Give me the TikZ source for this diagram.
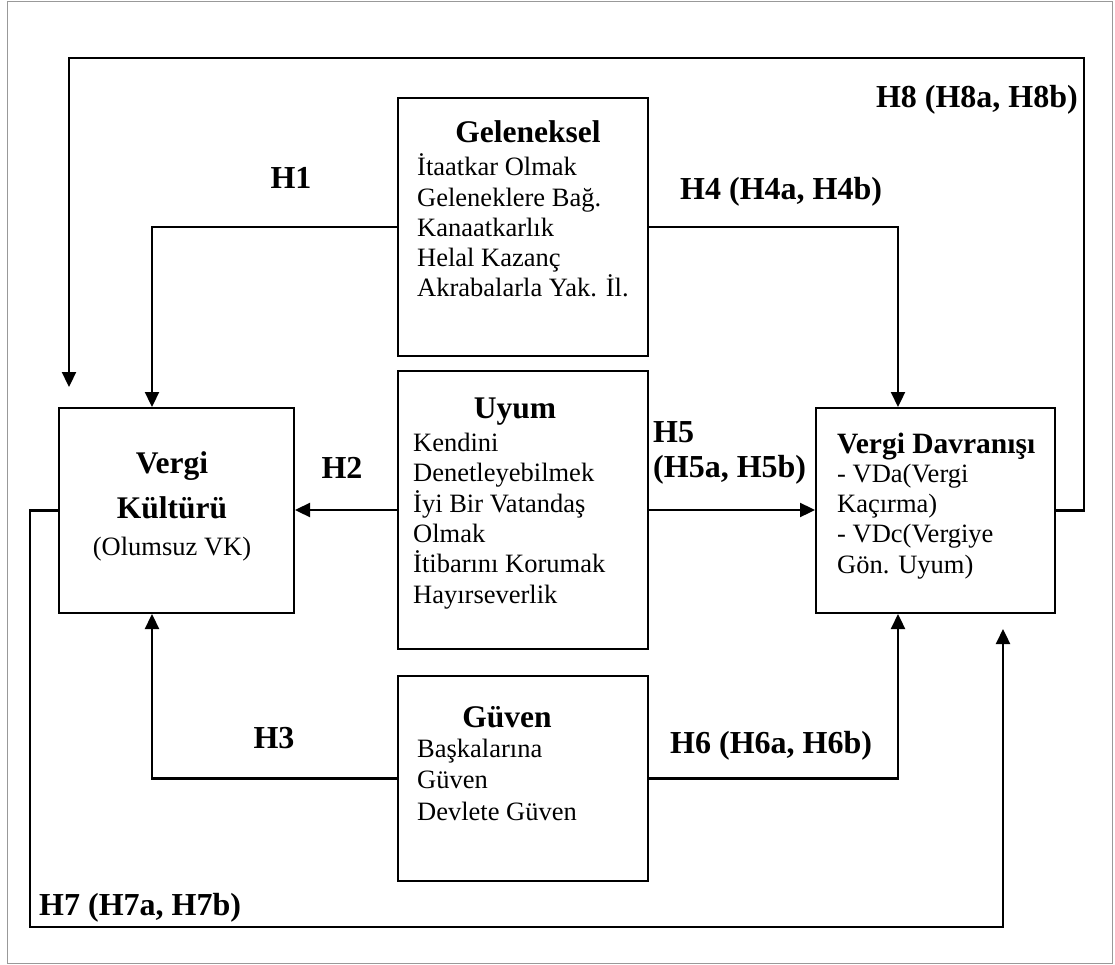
\documentclass[tikz,border=0pt]{standalone}
\usepackage{fontspec}
\setmainfont{Liberation Serif}
\usetikzlibrary{arrows.meta}
\begin{document}
\begin{tikzpicture}[x=1pt,y=-1pt,
  box/.style={draw,line width=2pt,inner sep=0pt,anchor=north west},
  conn/.style={line width=2.3pt},
  arr/.style={conn,-{Triangle[length=15pt,width=14pt]}},
  head/.style={font=\fontsize{31.5}{36}\selectfont\bfseries,inner sep=0pt,anchor=base},
  body/.style={font=\fontsize{26.5}{30.3}\selectfont,inner sep=0pt,anchor=base west,align=left},
  lbl/.style={font=\fontsize{32}{35}\selectfont\bfseries,inner sep=0pt,align=left}
]
\useasboundingbox (0,0) rectangle (1115,965);
\draw[black!40,line width=1pt] (7,2) rectangle (1112,963);

% boxes
\node[box,minimum width=235,minimum height=205] (vk) at (58,407) {};
\node[box,minimum width=250,minimum height=258] (gel) at (397,97) {};
\node[box,minimum width=250,minimum height=278] (uyum) at (397,370) {};
\node[box,minimum width=250,minimum height=205] (guven) at (397,675) {};
\node[box,minimum width=239,minimum height=205] (vd) at (815,407) {};

% texts (base anchor of a multi-line node = baseline of its last line)
\node[head] (gelh) at (528,143) {Geleneksel};
\node[body] (gelb) at (417,297) {İtaatkar Olmak\\Geleneklere Bağ.\\Kanaatkarlık\\Helal Kazanç\\Akrabalarla Yak. İl.};
\node[head] (uyh) at (515,418) {Uyum};
\node[body] (uyb) at (413,603) {Kendini\\Denetleyebilmek\\İyi Bir Vatandaş\\Olmak\\İtibarını Korumak\\Hayırseverlik};
\node[head] (guh) at (507,727) {Güven};
\node[body,font=\fontsize{26.5}{31.5}\selectfont] (gub) at (417,820) {Başkalarına\\Güven\\Devlete Güven};
\node[head] (vk1) at (172,473) {Vergi};
\node[head] (vk2) at (172,518) {Kültürü};
\node[body,anchor=base] (vk3) at (172,555) {(Olumsuz VK)};
\node[head,anchor=base west,font=\fontsize{29.5}{34}\selectfont\bfseries] (vdh) at (837,453) {Vergi Davranışı};
\node[body] (vdb) at (837,573) {- VDa(Vergi\\Kaçırma)\\- VDc(Vergiye\\Gön. Uyum)};

% labels
\node[lbl,anchor=base] (l1) at (291,189) {H1};
\node[lbl,anchor=base] (l2) at (342,478) {H2};
\node[lbl,anchor=base] (l3) at (274,748) {H3};
\node[lbl,anchor=base west] (l4) at (680,200) {H4 (H4a, H4b)};
\node[lbl,anchor=base west] (l5) at (653,477) {H5\\(H5a, H5b)};
\node[lbl,anchor=base west] (l6) at (670,753) {H6 (H6a, H6b)};
\node[lbl,anchor=base west] (l7) at (39,915) {H7 (H7a, H7b)};
\node[lbl,anchor=base east] (l8) at (1078,108) {H8 (H8a, H8b)};

% helper coordinates
\coordinate (cL) at (152,0);
\coordinate (cR) at (898,0);
\coordinate (h7a) at (30,927);
\coordinate (h7b) at (1003,927);
\coordinate (h7t) at (1003,629);
\coordinate (h8a) at (1084,58);
\coordinate (h8b) at (69,58);
\coordinate (h8t) at (69,387);

% connectors
\draw[arr] (gel.west) -| (cL |- vk.north);
\draw[arr] (gel.east) -| (cR |- vd.north);
\draw[arr] (uyum.west) -- (uyum.west -| vk.east);
\draw[arr] (uyum.east) -- (uyum.east -| vd.west);
\draw[arr] (guven.west) -| (cL |- vk.south);
\draw[arr] (guven.east) -| (cR |- vd.south);
\draw[arr] (vk.west) -| (h7a) -- (h7b) -- (h7t);
\draw[arr] (vd.east) -| (h8a) -- (h8b) -- (h8t);
\end{tikzpicture}
\end{document}
